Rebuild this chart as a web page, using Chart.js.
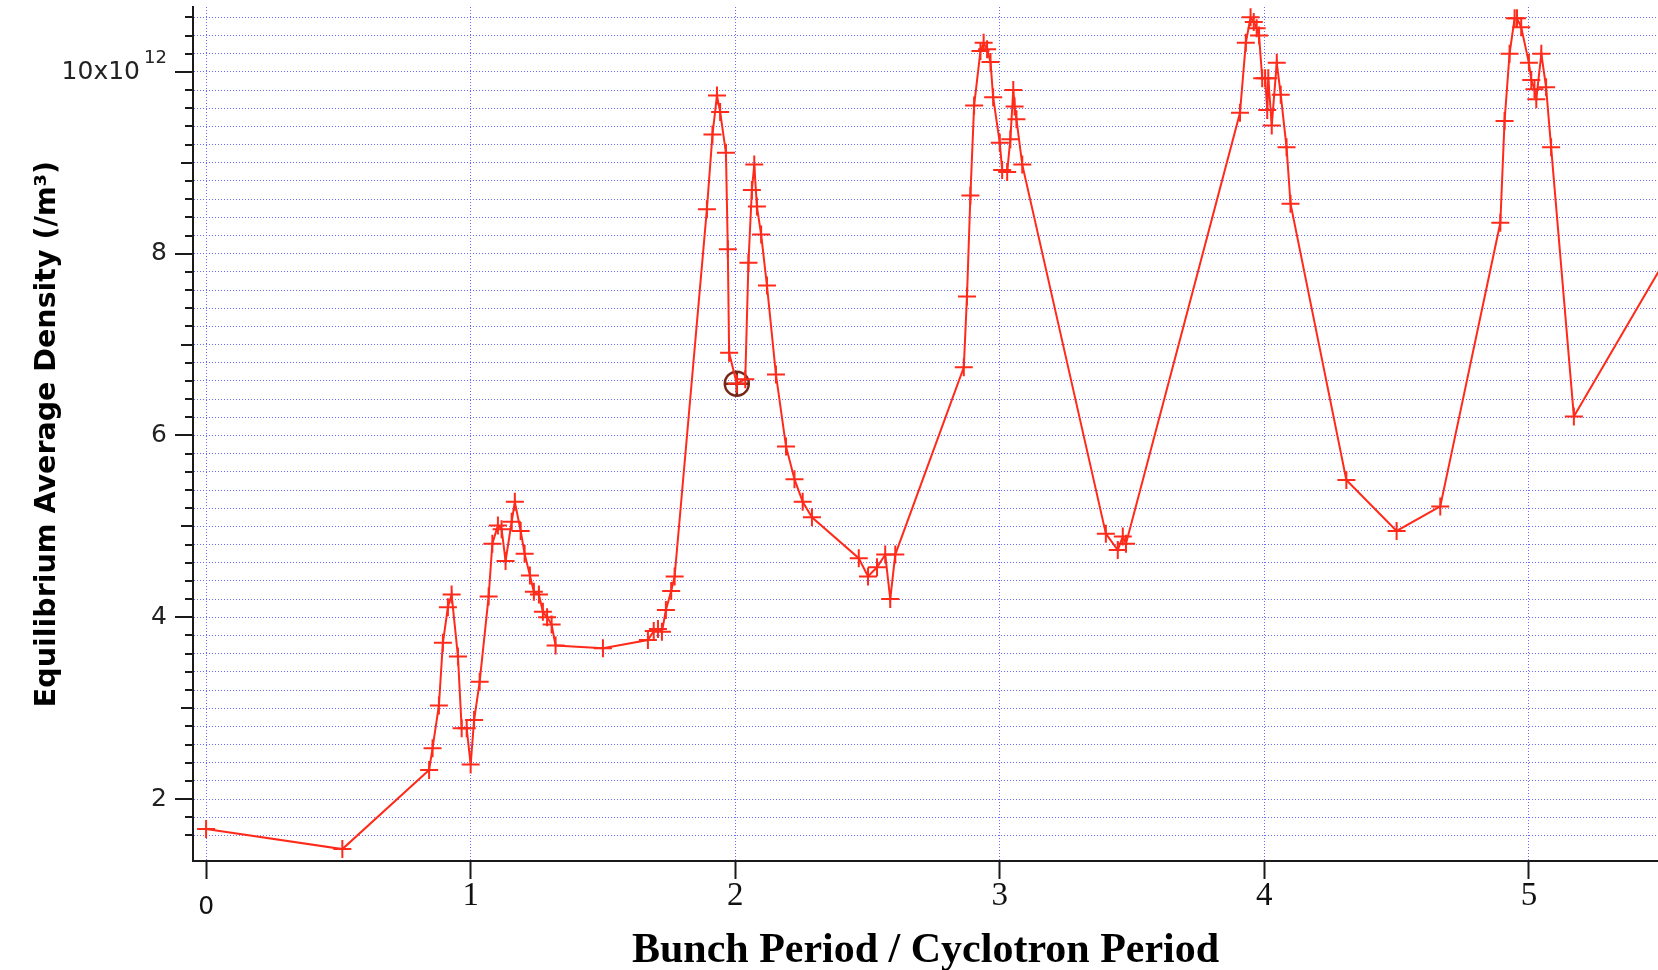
<!DOCTYPE html>
<html>
<head>
<meta charset="utf-8">
<title>Equilibrium Average Density</title>
<script src="https://cdn.jsdelivr.net/npm/chart.js@4"></script>
<style>
  html, body { margin: 0; padding: 0; background: #fff; }
  #wrap { width: 1658px; height: 970px; }
</style>
</head>
<body>
<div id="wrap"><canvas id="densityChart" width="1658" height="970"></canvas></div>
<script>
// ── Data (density in units of 10^12 /m^3) ─────────────────────
const bunchRatio = [
  0.000, 0.515, 0.843, 0.856, 0.880, 0.895, 0.914, 0.928, 0.952, 0.966,
  0.985, 1.000, 1.013, 1.034, 1.068, 1.082, 1.103, 1.117, 1.132, 1.155,
  1.167, 1.189, 1.204, 1.224, 1.239, 1.258, 1.273, 1.289, 1.306, 1.321,
  1.500, 1.670, 1.692, 1.708, 1.723, 1.738, 1.758, 1.771, 1.893, 1.914,
  1.931, 1.943, 1.965, 1.972, 1.977, 2.006, 2.038, 2.050, 2.063, 2.072,
  2.082, 2.098, 2.120, 2.154, 2.192, 2.224, 2.255, 2.290, 2.467, 2.502,
  2.536, 2.567, 2.586, 2.605, 2.864, 2.876, 2.889, 2.903, 2.927, 2.939,
  2.952, 2.965, 2.975, 3.000, 3.009, 3.028, 3.040, 3.051, 3.056, 3.063,
  3.085, 3.401, 3.446, 3.465, 3.477, 3.908, 3.930, 3.948, 3.960, 3.971,
  3.980, 3.992, 4.003, 4.011, 4.015, 4.028, 4.047, 4.062, 4.084, 4.099,
  4.310, 4.500, 4.665, 4.892, 4.908, 4.927, 4.946, 4.955, 4.971, 5.000,
  5.009, 5.021, 5.028, 5.047, 5.065, 5.084, 5.170, 5.600
];
const densityE12 = [
  1.67, 1.45, 2.32, 2.56, 3.03, 3.72, 4.11, 4.25, 3.57, 2.78,
  2.78, 2.38, 2.87, 3.29, 4.23, 4.81, 5.01, 4.97, 4.62, 5.05,
  5.27, 4.95, 4.70, 4.46, 4.28, 4.25, 4.06, 4.00, 3.92, 3.69,
  3.66, 3.75, 3.85, 3.87, 3.84, 4.08, 4.29, 4.45, 8.49, 9.31,
  9.74, 9.56, 9.11, 8.05, 6.91, 6.57, 6.62, 7.90, 8.70, 8.98,
  8.52, 8.21, 7.65, 6.67, 5.88, 5.52, 5.27, 5.10, 4.65, 4.45,
  4.55, 4.69, 4.20, 4.69, 6.75, 7.53, 8.64, 9.63, 10.23, 10.32,
  10.25, 10.11, 9.72, 9.22, 8.92, 8.90, 9.26, 9.80, 9.62, 9.48,
  8.98, 4.92, 4.74, 4.89, 4.81, 9.55, 10.32, 10.60, 10.55, 10.48,
  10.40, 9.93, 9.93, 9.58, 9.93, 9.41, 10.10, 9.75, 9.17, 8.55,
  5.51, 4.95, 5.22, 8.34, 9.46, 10.20, 10.59, 10.59, 10.49, 10.10,
  9.91, 9.81, 9.70, 10.20, 9.83, 9.17, 6.21, 8.35
];

// cursor marker (circled point)
const cursorX = [2.006];
const cursorY = [6.57];

// axes
const xTickValues = [0, 1, 2, 3, 4, 5];
const yLabelValues = [2, 4, 6, 8, 10];
const yGridFrom = 1.6, yGridTo = 10.6, yGridStep = 0.2;
const xRange = [-0.0495, 5.488];
const yRange = [1.319, 10.714];

// ── Styles ────────────────────────────────────────────────────
const red = '#ff2a1a';
const gridBlue = '#6a6aff';
const axisInk = '#1a1a1a';
const cursorBrown = '#762818';
const sansFamily = "'DejaVu Sans', sans-serif";
const serifFamily = "'Liberation Serif', 'Times New Roman', serif";

const yGridValues = [];
for (let v = yGridFrom; v <= yGridTo + 1e-9; v += yGridStep) yGridValues.push(Math.round(v * 10) / 10);

const isWhole = v => Math.abs(v - Math.round(v)) < 1e-6;

const mainPoints = bunchRatio.map((x, i) => ({ x, y: densityE12[i] }));
const cursorPoints = cursorX.map((x, i) => ({ x, y: cursorY[i] }));

// ── Y tick marks (long at labels, medium at odd integers, short minor) + 10x10^12 label ──
const yAxisExtras = {
  id: 'yAxisExtras',
  afterDraw(chart) {
    const { ctx, chartArea, scales: { y } } = chart;
    ctx.save();
    ctx.strokeStyle = axisInk;
    ctx.lineWidth = 2;
    y.ticks.forEach(t => {
      const py = Math.round(y.getPixelForValue(t.value));
      let len = 8;
      if (isWhole(t.value)) len = Math.round(t.value) % 2 === 0 ? 18 : 12;
      ctx.beginPath();
      ctx.moveTo(chartArea.left - len, py);
      ctx.lineTo(chartArea.left, py);
      ctx.stroke();
    });
    // top label with its exponent
    const p10 = y.getPixelForValue(10);
    ctx.fillStyle = '#222';
    ctx.textAlign = 'right';
    ctx.textBaseline = 'middle';
    ctx.font = `25px ${sansFamily}`;
    ctx.fillText('10x10', chartArea.left - 53, p10 + 1);
    ctx.font = `18px ${sansFamily}`;
    ctx.fillText('12', chartArea.left - 26, p10 - 14);
    ctx.restore();
  }
};

new Chart(document.getElementById('densityChart'), {
  type: 'line',
  data: {
    datasets: [
      {
        data: mainPoints,
        borderColor: red, borderWidth: 2, tension: 0, fill: false,
        pointStyle: 'cross', pointRadius: 9, pointBorderColor: red, pointBorderWidth: 2,
      },
      {
        data: cursorPoints, showLine: false,
        pointStyle: 'circle', pointRadius: 12,
        pointBorderColor: cursorBrown, pointBackgroundColor: 'rgba(0,0,0,0)', pointBorderWidth: 2.5,
      },
      {
        data: cursorPoints, showLine: false,
        pointStyle: 'cross', pointRadius: 12,
        pointBorderColor: cursorBrown, pointBorderWidth: 2.5,
      }
    ]
  },
  options: {
    responsive: false,
    devicePixelRatio: 1,
    animation: false,
    layout: { autoPadding: false, padding: { top: 7, left: 0, right: 0, bottom: 0 } },
    plugins: { legend: { display: false }, tooltip: { enabled: false } },
    scales: {
      x: {
        type: 'linear', min: xRange[0], max: xRange[1],
        afterBuildTicks: s => { s.ticks = xTickValues.map(v => ({ value: v })); },
        afterFit: s => { s.height = 109; s.paddingLeft = 0; s.paddingRight = 0; },
        border: { display: true, color: axisInk, width: 2, dash: [1, 2] },
        grid: { color: gridBlue, lineWidth: 1, drawTicks: true, tickLength: 18, tickColor: axisInk, tickWidth: 2 },
        ticks: {
          autoSkip: false, maxRotation: 0, padding: 0, color: '#111',
          font: c => (c.tick && c.tick.value === 0)
            ? { family: sansFamily, size: 25, lineHeight: 2.24 }
            : { family: serifFamily, size: 33, lineHeight: 1.03 },
          callback: v => String(v)
        },
        title: {
          display: true, text: 'Bunch Period / Cyclotron Period', color: '#000',
          font: { family: serifFamily, size: 42, weight: 'bold', lineHeight: 1 },
          padding: { top: 0, bottom: -2 }
        }
      },
      y: {
        type: 'linear', min: yRange[0], max: yRange[1],
        afterBuildTicks: s => { s.ticks = yGridValues.map(v => ({ value: v })); },
        afterFit: s => { s.width = 193; s.paddingTop = 0; s.paddingBottom = 0; },
        border: { display: true, color: axisInk, width: 2, dash: [1, 2] },
        grid: { color: gridBlue, lineWidth: 1, drawTicks: false },
        ticks: {
          autoSkip: false, padding: 26, color: '#222',
          font: { family: sansFamily, size: 25, lineHeight: 0.04 },
          callback: v => {
            if (!isWhole(v) || !yLabelValues.includes(Math.round(v)) || Math.round(v) === 10) return '';
            return String(Math.round(v));
          }
        },
        title: {
          display: true, text: 'Equilibrium Average Density (/m\u00B3)', color: '#000',
          font: { family: sansFamily, size: 28.5, weight: 'bold', lineHeight: 1.2 },
          padding: { top: 30, bottom: 0 }
        }
      }
    }
  },
  plugins: [yAxisExtras]
});
</script>
</body>
</html>
